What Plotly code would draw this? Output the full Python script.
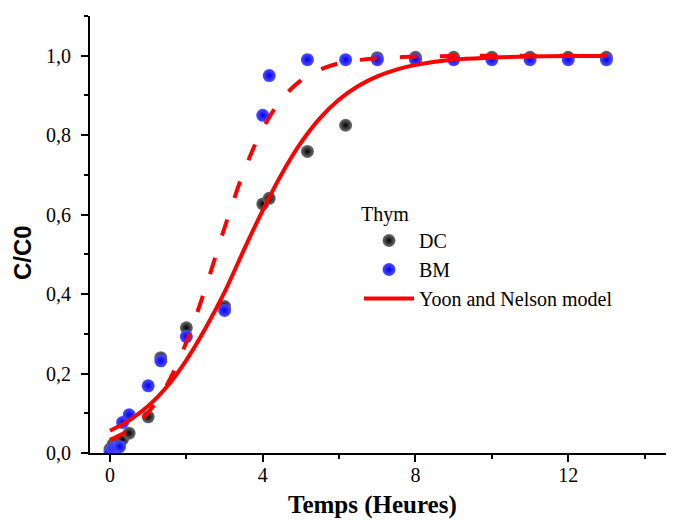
import plotly.graph_objects as go

dc_t = [0.0, 0.08, 0.17, 0.25, 0.33, 0.5, 1.0, 1.33, 2.0, 3.0, 4.0, 4.17, 5.17, 6.17, 7.0, 8.0, 9.0, 10.0, 11.0, 12.0, 13.0]
dc_c = [0.010, 0.022, 0.025, 0.030, 0.035, 0.050, 0.091, 0.240, 0.315, 0.369, 0.627, 0.641, 0.759, 0.825, 0.995, 0.996, 0.996, 0.996, 0.996, 0.996, 0.996]

bm_t = [0.0, 0.08, 0.17, 0.25, 0.33, 0.5, 1.0, 1.33, 2.0, 3.0, 4.0, 4.17, 5.17, 6.17, 7.0, 8.0, 9.0, 10.0, 11.0, 12.0, 13.0]
bm_c = [0.002, 0.012, 0.013, 0.016, 0.077, 0.096, 0.169, 0.232, 0.293, 0.359, 0.850, 0.950, 0.990, 0.990, 0.990, 0.990, 0.990, 0.990, 0.990, 0.990, 0.990]

# Model curves
model_t = [0.0, 0.5, 1.0, 1.5, 2.0, 2.5, 3.0, 3.5, 4.0, 4.5, 5.0, 5.5, 6.0, 6.5, 7.0, 7.5, 8.0, 9.0, 10.0, 11.0, 12.0, 13.0]
model_dc = [0.056, 0.082, 0.118, 0.168, 0.234, 0.314, 0.405, 0.510, 0.611, 0.703, 0.781, 0.843, 0.890, 0.924, 0.948, 0.965, 0.977, 0.990, 0.995, 0.998, 0.999, 0.999]
model_bm = [0.033, 0.058, 0.102, 0.173, 0.279, 0.415, 0.567, 0.707, 0.816, 0.891, 0.938, 0.965, 0.981, 0.989, 0.994, 0.996, 0.998, 0.999, 1.000, 1.000, 1.000, 1.000]

y_ticks = [0.0, 0.2, 0.4, 0.6, 0.8, 1.0]
x_ticks = [0, 4, 8, 12]

SERIF = "Liberation Serif, Times New Roman, serif"
SANS = "Liberation Sans, Arial, sans-serif"

# the page body adds an 8px offset; margins compensate for it
L, T, PW, PH = 82, 8, 592, 437

fig = go.Figure()

fig.add_trace(go.Scatter(
    x=dc_t, y=dc_c, mode="markers", name="DC",
    marker=dict(size=13, color="#707070", line=dict(width=0),
                gradient=dict(type="radial", color="#000000")),
))
fig.add_trace(go.Scatter(
    x=bm_t, y=bm_c, mode="markers", name="BM",
    marker=dict(size=13, color="#5050ff", line=dict(width=0),
                gradient=dict(type="radial", color="#0000f0")),
))
fig.add_trace(go.Scatter(
    x=model_t, y=model_bm, mode="lines", showlegend=False,
    line=dict(color="#ff0000", width=4, dash="17px,23px", shape="spline", smoothing=1.0),
))
fig.add_trace(go.Scatter(
    x=model_t, y=model_dc, mode="lines", name="Yoon and Nelson model",
    line=dict(color="#ff0000", width=4, shape="spline", smoothing=1.0),
))

axis_common = dict(
    showline=True, linecolor="black", linewidth=2,
    ticks="outside", ticklen=7, tickwidth=2, tickcolor="black",
    showgrid=False, zeroline=False,
    tickfont=dict(family=SERIF, size=20, color="black"),
)

fig.update_xaxes(
    range=[-0.524, 14.98], tickvals=x_ticks, ticklabelstandoff=-4,
    minor=dict(dtick=2, tick0=0, ticks="outside", ticklen=4, tickwidth=2, tickcolor="black"),
    **axis_common,
)
fig.update_yaxes(
    range=[0, 1.1], tickvals=y_ticks, tickformat=".1f", ticklabelstandoff=6,
    minor=dict(dtick=0.1, tick0=0, ticks="outside", ticklen=4, tickwidth=2, tickcolor="black"),
    **axis_common,
)

fig.add_annotation(
    text="<b>Temps (Heures)</b>", xref="paper", yref="paper",
    x=(372 - 90) / PW, y=-(505 - 453) / PH, xanchor="center", yanchor="middle",
    showarrow=False, font=dict(family=SERIF, size=25, color="black"),
)
fig.add_annotation(
    text="<b>C/C0</b>", xref="paper", yref="paper",
    x=-(90 - 23) / PW, y=(453 - 253) / PH, xanchor="center", yanchor="middle",
    textangle=-90, showarrow=False, font=dict(family=SANS, size=24, color="black"),
)

fig.update_layout(
    width=674, height=520,
    margin=dict(l=L, r=674 - L - PW, t=T, b=520 - T - PH),
    paper_bgcolor="white", plot_bgcolor="white",
    separators=", ",
    showlegend=True,
    legend=dict(
        title=dict(text="Thym", font=dict(family=SERIF, size=20, color="black")),
        font=dict(family=SERIF, size=20, color="black"),
        x=(359 - 90) / PW, y=(453 - 195) / PH, xanchor="left", yanchor="top",
        bgcolor="rgba(0,0,0,0)", borderwidth=0, itemwidth=50,
        tracegroupgap=0,
    ),
)

fig.write_html("out.html")
